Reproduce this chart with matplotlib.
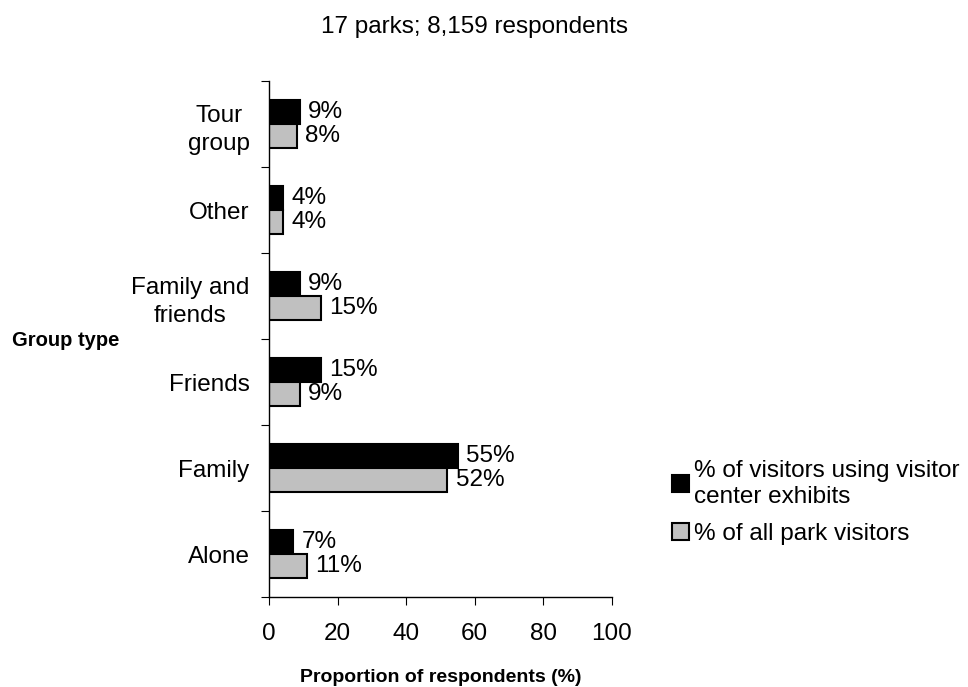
import numpy as np
import matplotlib.pyplot as plt
from matplotlib.patches import Patch

plt.rcParams['font.family'] = ['Liberation Sans', 'DejaVu Sans']

# group types, bottom to top
groups = ['Alone', 'Family', 'Friends', 'Family and\nfriends', 'Other', 'Tour\ngroup']
exhibit_users = [7, 55, 15, 9, 4, 9]
all_visitors = [11, 52, 9, 15, 4, 8]

fig = plt.figure(figsize=(9.68, 6.87), dpi=100)
ax = fig.add_axes([0.278, 0.131, 0.354, 0.751])

y = np.arange(len(groups))
h = 0.28
b1 = ax.barh(y + h / 2, exhibit_users, height=h, color='black',
             edgecolor='black', linewidth=1.5)
b2 = ax.barh(y - h / 2, all_visitors, height=h, color='#c0c0c0',
             edgecolor='black', linewidth=1.5)

for bars, vals in ((b1, exhibit_users), (b2, all_visitors)):
    for bar, v in zip(bars, vals):
        ax.text(v + 2.4, bar.get_y() + bar.get_height() / 2, f'{v}%',
                va='center', ha='left', fontsize=17.5)

ax.set_xlim(0, 100)
ax.set_ylim(-0.5, len(groups) - 0.5)
ax.set_xticks(range(0, 101, 20))
ax.tick_params(axis='x', labelsize=17.5, length=6, direction='out', pad=13)

# ticks sit between groups, labels at group centres
ax.set_yticks(np.arange(-0.5, len(groups), 1.0))
ax.set_yticklabels([])
ax.tick_params(axis='y', which='major', length=6, direction='out')
ax.set_yticks(y, minor=True)
ax.set_yticklabels(groups, minor=True, fontsize=17.5, multialignment='center',
                   linespacing=1.4)
ax.tick_params(axis='y', which='minor', length=0, pad=14)

for s in ('top', 'right'):
    ax.spines[s].set_visible(False)
ax.spines['left'].set_linewidth(1.0)
ax.spines['bottom'].set_linewidth(1.0)

ax.set_xlabel('Proportion of respondents (%)', fontsize=14, fontweight='bold',
              labelpad=17)
fig.text(0.012, 0.505, 'Group type', fontsize=14.5, fontweight='bold',
         ha='left', va='center')
fig.text(0.49, 0.961, '17 parks; 8,159 respondents', fontsize=17.5,
         ha='center', va='center')

handles = [Patch(facecolor='black', edgecolor='black', linewidth=1.5),
           Patch(facecolor='#c0c0c0', edgecolor='black', linewidth=1.5)]
fig.legend(handles, ['% of visitors using visitor\ncenter exhibits',
                     '% of all park visitors'],
           loc='upper left', bbox_to_anchor=(0.677, 0.355), frameon=False,
           fontsize=17.5, handlelength=0.7, handleheight=0.7,
           handletextpad=0.2, labelspacing=0.64, borderpad=0.2)

fig.savefig('out.png', dpi=100)
